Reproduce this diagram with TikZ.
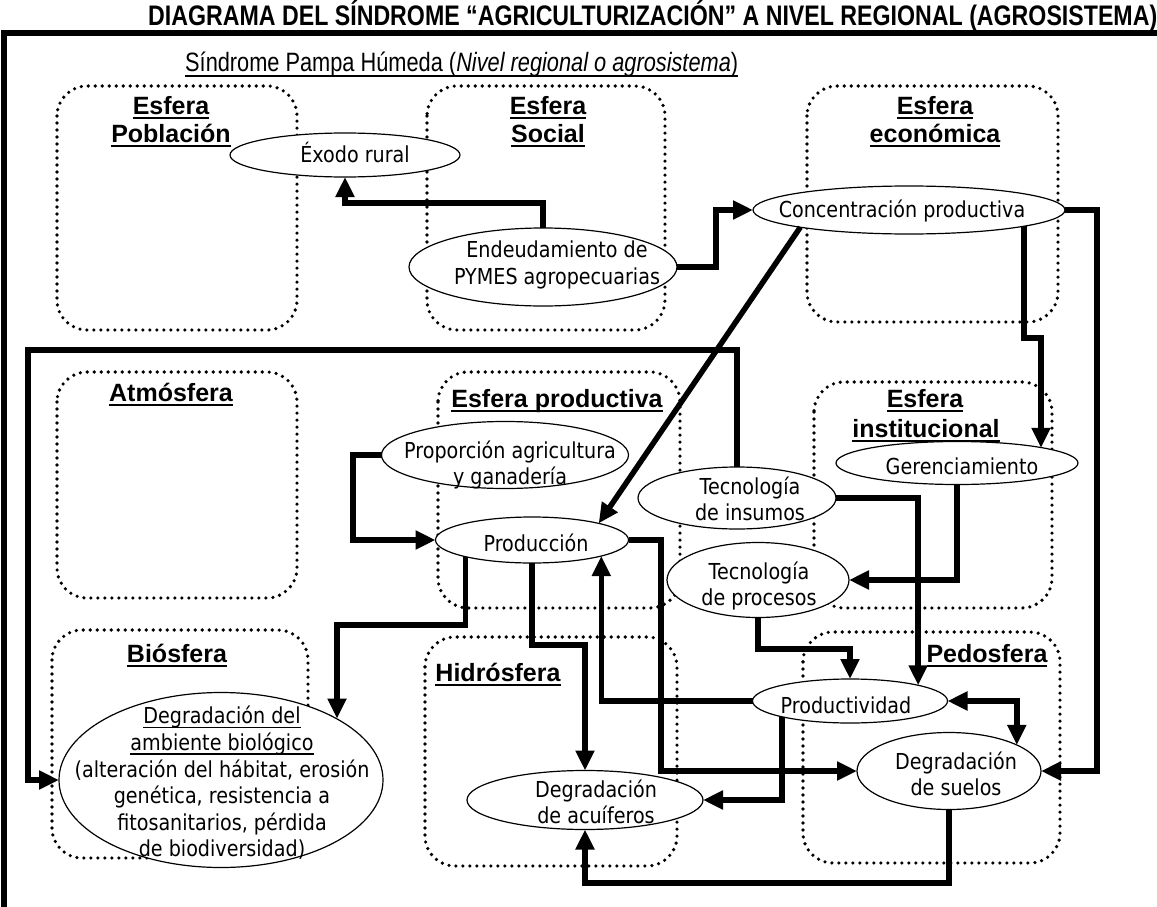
\documentclass[tikz,border=0pt]{standalone}
\usepackage{fontspec}
\setmainfont[FakeStretch=0.87]{DejaVu Sans}
\newfontfamily\headfont{Liberation Sans}
\newfontfamily\narrowfont[FakeStretch=0.82]{Liberation Sans}
\usetikzlibrary{shapes.geometric,arrows.meta}
\newcommand{\myul}[3]{\setbox0\hbox{#3}\leavevmode\rlap{\vrule width\wd0 height -#1 depth \dimexpr#1+#2\relax}\box0}
\tikzset{
  sphere/.style={draw, line width=3.6pt, dash pattern=on 0pt off 7pt, line cap=round, rounded corners=30pt},
  ell/.style={draw, ellipse, line width=1.2pt, fill=white, inner sep=0pt, outer sep=0pt},
  etext/.style={inner sep=0pt, align=center, font=\fontsize{22}{26.5}\selectfont},
  head/.style={anchor=base, inner sep=0pt, font=\headfont\bfseries\fontsize{25}{28}\selectfont},
  conn/.style={line width=5.5pt, -{Triangle[length=20pt,width=18pt]}},
  dconn/.style={line width=5.5pt, {Triangle[length=20pt,width=18pt]}-{Triangle[length=20pt,width=18pt]}},
  frameline/.style={line width=5.5pt},
}
\begin{document}
\begin{tikzpicture}[x=1pt,y=-1pt]
\useasboundingbox (0,0) rectangle (1157,907);
% title and frame
\node[anchor=base west, inner sep=0pt] (title) at (148,26)
  {\resizebox{1009pt}{!}{\narrowfont\bfseries\fontsize{20}{24}\selectfont DIAGRAMA DEL SÍNDROME “AGRICULTURIZACIÓN” A NIVEL REGIONAL (AGROSISTEMA)}};
\draw[frameline] (4,907) -- (4,33) -- (1160,33);
\node[anchor=base west, inner sep=0pt] (subtitle) at (185,71)
  {\resizebox{553pt}{!}{\narrowfont\fontsize{25}{30}\selectfont\myul{4pt}{2pt}{Síndrome Pampa Húmeda (\textit{Nivel regional o agrosistema})}}};
% spheres
\draw[sphere] (57,86) rectangle (297,330);
\draw[sphere] (427,86) rectangle (665,330);
\draw[sphere] (807,86) rectangle (1058,322);
\draw[sphere] (57,372) rectangle (297,598);
\draw[sphere] (438,372) rectangle (680,608);
\draw[sphere] (814,382) rectangle (1052,608);
\draw[sphere] (52,630) rectangle (308,858);
\draw[sphere] (425,637) rectangle (677,866);
\draw[sphere] (803,632) rectangle (1060,863);
% headings
\node[head] (hpob1) at (171,114) {\myul{3pt}{2.4pt}{Esfera}};
\node[head] (hpob2) at (171,142) {\myul{3pt}{2.4pt}{Población}};
\node[head] (hsoc1) at (548,114) {\myul{3pt}{2.4pt}{Esfera}};
\node[head] (hsoc2) at (548,142) {\myul{3pt}{2.4pt}{Social}};
\node[head] (heco1) at (935,114) {\myul{3pt}{2.4pt}{Esfera}};
\node[head] (heco2) at (935,142) {\myul{3pt}{2.4pt}{económica}};
\node[head] (hatm) at (171,401) {\myul{3pt}{2.4pt}{Atmósfera}};
\node[head] (hpro) at (557,407) {\myul{3pt}{2.4pt}{Esfera productiva}};
\node[head] (hins1) at (925,407) {\myul{3pt}{2.4pt}{Esfera}};
\node[head] (hins2) at (926,437) {\myul{3pt}{2.4pt}{institucional}};
\node[head] (hbio) at (177,662) {\myul{3pt}{2.4pt}{Biósfera}};
\node[head] (hhid) at (498,681) {\myul{3pt}{2.4pt}{Hidrósfera}};
\node[head] (hped) at (987,662) {\myul{3pt}{2.4pt}{Pedosfera}};
% ellipses
\node[ell, minimum width=230pt, minimum height=44pt] (exodo) at (345,155) {};
\node[ell, minimum width=268pt, minimum height=78pt] (endeu) at (543,267) {};
\node[ell, minimum width=312pt, minimum height=48pt] (conc) at (909,210) {};
\node[ell, minimum width=247pt, minimum height=67pt] (prop) at (505,455) {};
\node[ell, minimum width=193pt, minimum height=46pt] (prod) at (532,540) {};
\node[ell, minimum width=198pt, minimum height=62pt] (tins) at (737,498) {};
\node[ell, minimum width=242pt, minimum height=43pt] (gerenc) at (957,463) {};
\node[ell, minimum width=182pt, minimum height=75pt] (tproc) at (758,580) {};
\node[ell, minimum width=195pt, minimum height=44pt] (produc) at (850,701) {};
\node[ell, minimum width=184pt, minimum height=77pt] (suelos) at (949,771) {};
\node[ell, minimum width=236pt, minimum height=59pt] (acuif) at (585,800) {};
\node[ell, minimum width=324pt, minimum height=175pt] (bio) at (221,780) {};
% ellipse texts
\node[etext, anchor=base] (exodo-t) at (355,162) {Éxodo rural};
\node[etext] (endeu-t) at (557,265) {Endeudamiento de\\PYMES agropecuarias};
\node[etext, anchor=base] (conc-t) at (902,217) {Concentración productiva};
\node[etext] (prop-t) at (510,465) {Proporción agricultura\\y ganadería};
\node[etext, anchor=base] (prod-t) at (536,551) {Producción};
\node[etext] (tins-t) at (750,499) {Tecnología\\de insumos};
\node[etext, anchor=base] (gerenc-t) at (962,474) {Gerenciamiento};
\node[etext] (tproc-t) at (759,586) {Tecnología\\de procesos};
\node[etext, anchor=base] (produc-t) at (846,713) {Productividad};
\node[etext] (suelos-t) at (956,774) {Degradación\\de suelos};
\node[etext] (acuif-t) at (596,802) {Degradación\\de acuíferos};
\node[etext, font=\fontsize{22}{26.6}\selectfont] (bio-t) at (222,783)
  {\myul{3pt}{1.3pt}{Degradación del}\\\myul{3pt}{1.3pt}{ambiente biológico}\\(alteración del hábitat, erosión\\genética, resistencia a\\fitosanitarios, pérdida\\de biodiversidad)};
% bend points
\coordinate (k1) at (345,203);
\coordinate (k2) at (716,210);
\coordinate (k4) at (1041,338);
\coordinate (k5) at (1097,771);
\coordinate (k6) at (28,350);
\coordinate (k9) at (353,500);
\coordinate (k10) at (337,625);
\coordinate (k11) at (585,645);
\coordinate (k13) at (661,650);
\coordinate (k14) at (850,649);
\coordinate (k17) at (585,883);
% connectors
\draw[conn] (endeu.north) |- (k1) -- (exodo.south);
\draw[conn] (endeu.east) -| (k2) -- (conc.west);
\draw[conn] (conc.189) -- (prod.14);
\draw[conn] (conc.352) |- (k4) -- (k4 |- gerenc.10);
\draw[conn] (conc.east) -| (k5) -- (suelos.east);
\draw[conn] (tins.north) |- (k6) |- (bio.west);
\draw[conn] (tins.east) -| (produc.13);
\draw[conn] (gerenc.south) |- (tproc.east);
\draw[conn] (prop.west) -| (k9) |- (prod.west);
\draw[conn] (prod.194) |- (k10) -- (k10 |- bio.28);
\draw[conn] (prod.south) |- (k11) -- (acuif.north);
\draw[conn] (produc.west) -| (prod.347);
\draw[conn] (prod.east) -| (k13) |- (suelos.west);
\draw[conn] (tproc.south) |- (k14) -- (produc.north);
\draw[conn] (produc.193) |- (acuif.east);
\draw[dconn] (produc.east) -| (suelos.21);
\draw[conn] (suelos.south) |- (k17) -- (acuif.south);
\end{tikzpicture}
\end{document}
